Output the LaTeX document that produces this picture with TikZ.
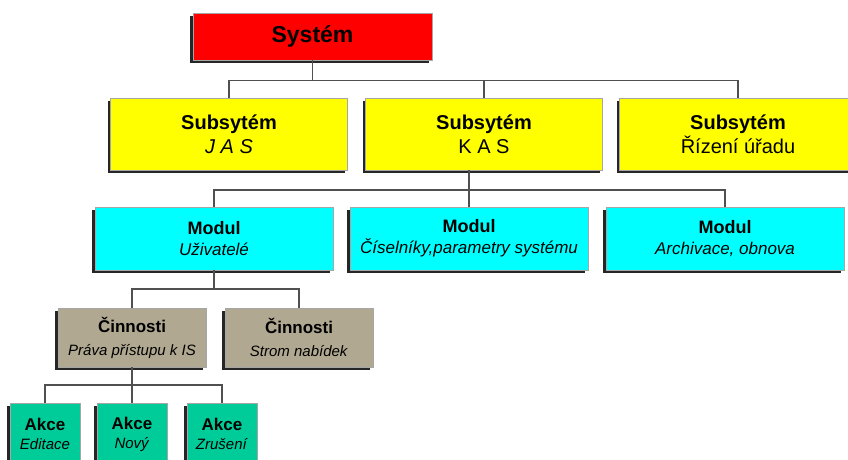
\documentclass[tikz,border=0pt]{standalone}
\usepackage{fontspec}
\setmainfont{Liberation Sans}
\usetikzlibrary{shadows,calc}
\definecolor{cred}{HTML}{FF0000}
\definecolor{cyel}{HTML}{FFFF00}
\definecolor{ccyan}{HTML}{00FFFF}
\definecolor{ctan}{HTML}{B0A890}
\definecolor{cteal}{HTML}{00CC99}
\definecolor{cline}{HTML}{505050}
\tikzset{
  box/.style={draw=black!35, line width=0.5pt, inner sep=0pt, align=center,
    drop shadow={shadow xshift=-3pt, shadow yshift=-3pt, fill=black!85, opacity=1}},
  sysbox/.style={box, fill=cred, minimum width=239pt, minimum height=47pt,
    font=\fontsize{23}{28}\selectfont\bfseries},
  subbox/.style={box, fill=cyel, minimum width=237pt, minimum height=72pt,
    font=\fontsize{20}{24}\selectfont},
  modbox/.style={box, fill=ccyan, minimum width=238pt, minimum height=63pt,
    font=\fontsize{17}{21}\selectfont},
  actbox/.style={box, fill=ctan, minimum width=148pt, minimum height=59pt,
    font=\fontsize{15}{23}\selectfont},
  akcebox/.style={box, fill=cteal, minimum width=70pt, minimum height=62pt,
    font=\fontsize{15}{19}\selectfont},
  conn/.style={draw=cline, line width=1.3pt},
}
\begin{document}
\begin{tikzpicture}[x=1pt,y=-1pt]
\useasboundingbox (0,0) rectangle (848,459);
\clip (0,0) rectangle (848,459);
\fill[white] (0,0) rectangle (848,459);

\node[sysbox] (sys) at (312.5,36.5) {Systém};

\node[subbox] (jas) at (229,134) {\textbf{Subsytém}\\\textit{J A S}};
\node[subbox] (kas) at (484,134) {\textbf{Subsytém}\\K A S};
\node[subbox] (riz) at (738,134) {\textbf{Subsytém}\\Řízení úřadu};

\node[modbox] (uzi) at (214,238.5) {\textbf{\fontsize{18}{21}\selectfont Modul}\\\textit{Uživatelé}};
\node[modbox] (cis) at (469,238.5) {\textbf{\fontsize{18}{21}\selectfont Modul}\\\textit{Číselníky,parametry systému}};
\node[modbox] (arch) at (725,238.5) {\textbf{\fontsize{18}{21}\selectfont Modul}\\\textit{Archivace, obnova}};

\node[actbox] (prava) at (132,337.5) {\textbf{\fontsize{17}{23}\selectfont Činnosti}\\\textit{Práva přístupu k IS}};
\node[actbox] (strom) at (299,337.5) {\textbf{\fontsize{17}{23}\selectfont Činnosti}\\\textit{Strom nabídek}};

\node[akcebox] (edit) at (45,434) {\textbf{\fontsize{17}{19}\selectfont Akce}\\\textit{Editace}};
\node[akcebox] (novy) at (132,434) {\textbf{\fontsize{17}{19}\selectfont Akce}\\\textit{Nový}};
\node[akcebox] (zrus) at (222,434) {\textbf{\fontsize{17}{19}\selectfont Akce}\\\textit{Zrušení}};

% level 1
\coordinate (j1) at ($(sys.south)+(0,20)$);
\draw[conn] (sys.south) -- (j1);
\draw[conn] (jas.north) |- (j1) -| (riz.north);
\draw[conn] (kas.north) -- (kas.north |- j1);
% level 2
\coordinate (j2) at (cis.north |- 0,190);
\draw[conn] (kas.south -| cis.north) -- (cis.north);
\draw[conn] (uzi.north) |- (j2) -| (arch.north);
% level 3
\coordinate (j3) at (uzi.south |- 0,289);
\draw[conn] (uzi.south) -- (j3);
\draw[conn] (prava.north) |- (j3) -| (strom.north);
% level 4
\coordinate (j4) at (prava.south |- 0,385);
\draw[conn] (prava.south) -- (j4);
\draw[conn] (edit.north) |- (j4) -| (zrus.north);
\draw[conn] (novy.north) -- (novy.north |- j4);
\end{tikzpicture}
\end{document}
